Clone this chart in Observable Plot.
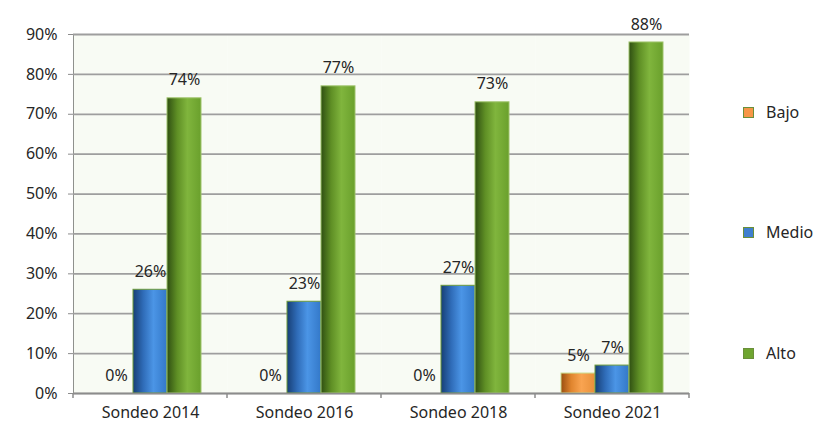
<!DOCTYPE html>
<html><head><meta charset="utf-8">
<script src="https://cdn.jsdelivr.net/npm/d3@7"></script>
<script src="https://cdn.jsdelivr.net/npm/@observablehq/plot@0.6"></script>
<style>
body{margin:0;background:#fff;font-family:"Noto Sans",sans-serif}
#wrap{position:relative;width:825px;height:423px;overflow:hidden}
.leg{position:absolute;left:743px;display:flex;align-items:center;font-size:16px;color:#262626;height:20px;line-height:20px}
.leg .sw{width:9px;height:9px;margin-right:12px;box-sizing:content-box}
</style></head>
<body><div id="wrap"></div>
<script>
const categories = ["Sondeo 2014","Sondeo 2016","Sondeo 2018","Sondeo 2021"];
const series = ["Bajo","Medio","Alto"];
const bajo  = [0, 0, 0, 5];
const medio = [26, 23, 27, 7];
const alto  = [74, 77, 73, 88];
const yTicks = [0,10,20,30,40,50,60,70,80,90];
const legendColors = {Bajo:"#f79646", Medio:"#3f7fcf", Alto:"#6fa530"};
const legendBorders = {Bajo:"#6a8f3a", Medio:"#6a8f3a", Alto:"#6a8f3a"};
const gradients = {
  Bajo:  ["#9a4e10","#e0852e","#f9a451","#e8903a"],
  Medio: ["#173f75","#2f6cb8","#4b95e6","#3378c8"],
  Alto:  ["#2f4f12","#5f8f25","#80b53d","#6aa02c"]
};
const edge = {Bajo:"#c9d98a", Medio:"#6d9a3a", Alto:"#9ec36a"};

const seriesValues = {Bajo: bajo, Medio: medio, Alto: alto};
const data = [];
categories.forEach((c, i) => series.forEach(s => data.push({cat: c, series: s, value: seriesValues[s][i]})));

const plot = Plot.plot({
  width: 825, height: 423,
  marginLeft: 71, marginRight: 135, marginTop: 34, marginBottom: 30,
  style: {fontFamily: "Noto Sans", fontSize: "16px", color: "#262626", background: "transparent"},
  fx: {domain: categories, padding: 0, label: null, axis: "bottom", tickSize: 0, tickPadding: 13},
  x: {domain: series, axis: null, paddingInner: 0, paddingOuter: 0.745},
  y: {domain: [0, 90], ticks: yTicks, tickFormat: d => d + "%", label: null, tickSize: 5, tickPadding: 11, line: true},
  color: {type: "identity"},
  marks: [
    Plot.frame({fill: "#f8fbf4", stroke: null}),
    Plot.ruleY(yTicks, {stroke: "#9e9e9e", strokeWidth: 1.8}),
    Plot.barY(data, {fx: "cat", x: "series", y: "value", fill: d => `url(#grad-${d.series})`, stroke: d => edge[d.series], strokeWidth: 1, inset: 0}),
    Plot.ruleY([0], {stroke: "#8c8c8c", strokeWidth: 1.5}),
    Plot.text(data, {fx: "cat", x: "series", y: "value", text: d => d.value + "%", dy: -18, fontSize: 16, fill: "#262626"})
  ]
});

// gradient defs for cylinder-like bars
const svg = d3.select(plot);
const defs = svg.insert("defs", ":first-child");
series.forEach(s => {
  const g = defs.append("linearGradient").attr("id", "grad-" + s).attr("x1", "0").attr("x2", "1").attr("y1", "0").attr("y2", "0");
  const st = gradients[s];
  [[0, st[0]], [0.3, st[1]], [0.6, st[2]], [1, st[3]]].forEach(([o, c]) => g.append("stop").attr("offset", o).attr("stop-color", c));
});

// boundary ticks under the category axis, from the fx and y scales
const fx = plot.scale("fx"), y = plot.scale("y");
const y0 = y.apply(0);
const bounds = categories.map(c => fx.apply(c));
bounds.push(fx.apply(categories[categories.length - 1]) + fx.bandwidth);
svg.append("g").selectAll("line").data(bounds).join("line")
  .attr("x1", d => d).attr("x2", d => d).attr("y1", y0).attr("y2", y0 + 5)
  .attr("stroke", "#8c8c8c").attr("stroke-width", 1.5);
svg.selectAll("[aria-label='y-axis tick'] path, [aria-label='y-axis'] path").attr("stroke", "#8c8c8c");

const wrap = document.getElementById("wrap");
wrap.appendChild(plot);
const legTops = {Bajo: 102, Medio: 222, Alto: 343};
series.forEach(s => {
  const d = document.createElement("div");
  d.className = "leg";
  d.style.top = legTops[s] + "px";
  d.innerHTML = `<span class="sw" style="background:${legendColors[s]};border:1px solid ${legendBorders[s]}"></span><span>${s}</span>`;
  wrap.appendChild(d);
});
</script>
</body></html>
